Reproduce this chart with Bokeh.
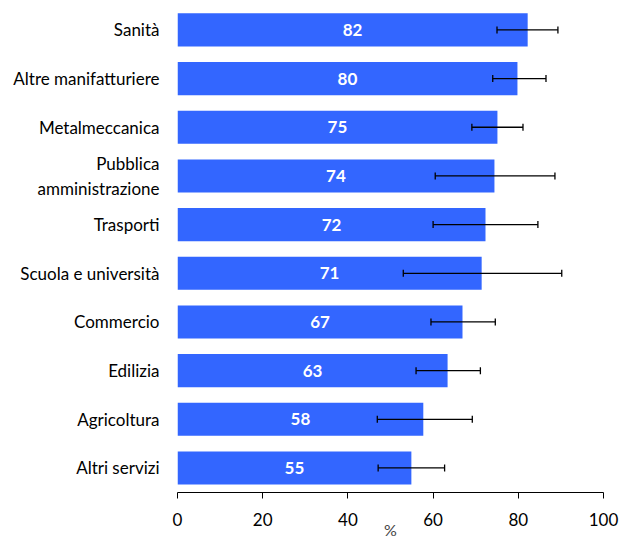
from bokeh.plotting import figure
from bokeh.models import Range1d, FixedTicker, Whisker, ColumnDataSource, TeeHead
from bokeh.embed import file_html
from bokeh.resources import INLINE
from bokeh.core.properties import value

categories = ["Sanità", "Altre manifatturiere", "Metalmeccanica", "Pubblica\namministrazione",
              "Trasporti", "Scuola e università", "Commercio", "Edilizia", "Agricoltura", "Altri servizi"]
bar_values = [82.2, 79.8, 75.1, 74.4, 72.3, 71.4, 66.9, 63.4, 57.7, 54.9]
value_labels = ["82", "80", "75", "74", "72", "71", "67", "63", "58", "55"]
err_low = [75.0, 74.0, 69.1, 60.5, 60.0, 53.0, 59.5, 56.0, 46.9, 47.1]
err_high = [89.3, 86.5, 81.1, 88.6, 84.6, 90.2, 74.6, 71.1, 69.2, 62.7]
x_ticks = [0, 20, 40, 60, 80, 100]

idx = list(range(len(categories)))
src = ColumnDataSource(dict(
    y=idx, v=bar_values, half=[b / 2 for b in bar_values], lab=value_labels,
    lo=err_low, hi=err_high))

FONT = "Lato"

p = figure(width=619, height=541, output_backend="svg", toolbar_location=None,
           x_range=Range1d(0, 100), y_range=Range1d(9.504, -0.6045),
           min_border_left=177, min_border_right=16, min_border_top=0, min_border_bottom=48)
p.outline_line_color = None
p.xgrid.visible = False
p.ygrid.visible = False

p.hbar(y="y", right="v", left=0, height=0.68, source=src, fill_color="#3366FF", line_color=None)
p.text(x="half", y="y", text="lab", source=src, text_align="center", text_baseline="middle",
       text_color="white", text_font=value(FONT), text_font_style="bold", text_font_size="17px")

w = Whisker(source=src, base="y", lower="lo", upper="hi", dimension="width",
            line_color="black", line_width=1.3, level="annotation",
            upper_head=TeeHead(size=7, line_color="black", line_width=1.3),
            lower_head=TeeHead(size=7, line_color="black", line_width=1.3))
p.add_layout(w)

p.yaxis.ticker = FixedTicker(ticks=idx)
p.yaxis.major_label_overrides = {i: c for i, c in zip(idx, categories)}
p.yaxis.axis_line_color = None
p.yaxis.major_tick_line_color = None
p.yaxis.minor_tick_line_color = None
p.yaxis.major_label_standoff = 12
p.yaxis.major_label_text_font = FONT
p.yaxis.major_label_text_font_size = "17px"
p.yaxis.major_label_text_color = "#000000"
p.yaxis.major_label_text_align = "right"

p.xaxis.ticker = FixedTicker(ticks=x_ticks)
p.xaxis.axis_line_color = "black"
p.xaxis.axis_line_width = 1
p.xaxis.major_tick_in = 0
p.xaxis.major_tick_out = 6
p.xaxis.major_tick_line_color = "black"
p.xaxis.minor_tick_line_color = None
p.xaxis.major_label_standoff = 14
p.xaxis.major_label_text_font = FONT
p.xaxis.major_label_text_font_size = "17px"
p.xaxis.major_label_text_color = "#000000"
p.xaxis.axis_label = "%"
p.xaxis.axis_label_text_font = FONT
p.xaxis.axis_label_text_font_size = "16px"
p.xaxis.axis_label_text_font_style = "normal"
p.xaxis.axis_label_standoff = -9

open("out.html", "w").write(file_html(p, INLINE))
